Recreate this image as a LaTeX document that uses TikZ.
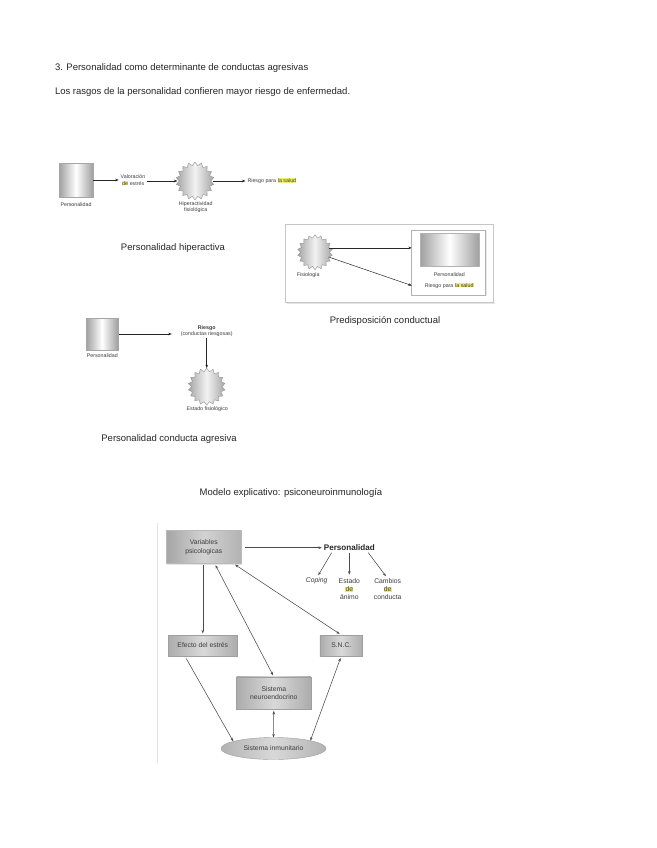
\documentclass[tikz,border=0pt]{standalone}
\usepackage{fontspec}
\setmainfont{Liberation Sans}
\usetikzlibrary{shapes.geometric,arrows.meta,shadows}
\definecolor{hly}{RGB}{238,236,110}
\definecolor{txtg}{RGB}{60,60,60}
\newcommand{\hlite}[1]{{\setlength{\fboxsep}{0.3pt}\colorbox{hly}{#1}}}
\newcommand{\fsz}[2]{\fontsize{#1}{#2}\selectfont}
\begin{document}
\begin{tikzpicture}[x=1pt,y=-1pt,
  every node/.style={inner sep=0pt, outer sep=0pt},
  headtxt/.style={font=\fsz{9.5}{11}, text=black!85, anchor=west},
  captxt/.style={font=\fsz{9.5}{11}, text=black!85},
  lbltiny/.style={font=\fsz{5.3}{6.6}, text=txtg, align=center},
  lblsmall/.style={font=\fsz{6.8}{8.2}, text=txtg, align=center},
  gradsq/.style={draw=gray!70, left color=gray!75, right color=gray!75, middle color=white, minimum width=34pt, minimum height=34pt},
  burstshape/.style={star, star points=18, star point ratio=1.22, draw=gray!85, left color=gray!70, right color=gray!70, middle color=gray!10, minimum size=#1},
  gbox/.style={draw=gray!75, left color=gray!65, right color=gray!65, middle color=gray!30, drop shadow={shadow xshift=0.8pt, shadow yshift=-0.8pt, fill=gray!35}},
  arr/.style={-{Stealth[length=3.5pt,width=2.6pt]}, draw=black!85, line width=0.5pt},
  garr/.style={-{Stealth[length=3.5pt,width=2.6pt]}, draw=black!70, line width=0.55pt},
  gdarr/.style={{Stealth[length=3.5pt,width=2.6pt]}-{Stealth[length=3.5pt,width=2.6pt]}, draw=black!70, line width=0.55pt}
]
\useasboundingbox (0,0) rectangle (656,848);
\fill[white] (0,0) rectangle (656,848);

% heading
\node[headtxt] (t1) at (55,68) {3. Personalidad como determinante de conductas agresivas};
\node[headtxt] (t2) at (55,92) {Los rasgos de la personalidad confieren mayor riesgo de enfermedad.};

% diagram 1
\node[gradsq] (p1) at (76,180) {};
\node[lbltiny] (p1l) at (76,204.3) {Personalidad};
\node[lbltiny] (val) at (133,180) {Valoración\\\hlite{de} estrés};
\node[burstshape=38pt] (b1) at (195,181) {};
\node[lbltiny] (b1l) at (195.7,207) {Hiperactividad\\fisiológica};
\node[lbltiny] (r1) at (272,181) {Riesgo para \hlite{la salud}};
\draw[arr, shorten >=2pt] (p1.east) -- (p1.east -| val.west);
\draw[arr, shorten <=2pt, shorten >=2pt] (val.east |- b1) -- (b1.west);
\draw[arr, shorten <=2pt, shorten >=2pt] (b1.east) -- (b1.east -| r1.west);
\node[captxt] (c1) at (173,248) {Personalidad hiperactiva};

% diagram 2
\fill[gray!20] (287,302) rectangle (494.5,304);
\draw[draw=gray!45, line width=0.8pt, fill=white] (285,224.3) rectangle (493.3,302.3);
\node[draw=gray!60, fill=white, line width=0.6pt, drop shadow={shadow xshift=1pt, shadow yshift=-1pt, fill=gray!35}, minimum width=74pt, minimum height=65pt] (ib) at (448.7,262.5) {};
\node[draw=gray!60, left color=gray!75, right color=gray!75, middle color=white, minimum width=59pt, minimum height=33pt] (p2) at (449.5,250) {};
\node[lbltiny] (p2l) at (449.3,275) {Personalidad};
\node[lbltiny] (r2) at (449.3,285.5) {Riesgo para \hlite{la salud}};
\node[burstshape=35pt] (b2) at (315,252.3) {};
\node[lbltiny] (b2l) at (308.3,275) {Fisiología};
\draw[arr] (b2.17) -- (ib.west |- b2.17);
\draw[arr] (b2.-19) -- (ib.west |- r2);
\node[captxt] (c2) at (385,320.5) {Predisposición conductual};

% diagram 3
\node[gradsq, minimum width=32pt, minimum height=32pt] (p3) at (102,334) {};
\node[lbltiny] (p3l) at (102.3,355.7) {Personalidad};
\node[lbltiny] (risk) at (206.7,331) {\textbf{Riesgo}\\(conductas riesgosas)};
\node[burstshape=37pt] (b3) at (206.7,386.7) {};
\node[lbltiny] (b3l) at (207.3,409.3) {Estado fisiológico};
\draw[arr, shorten <=1pt, shorten >=9pt] (p3.east) -- (p3.east -| risk.west);
\draw[arr, shorten <=1pt] (risk.south) -- (b3.north);
\node[captxt] (c3) at (169,439.5) {Personalidad conducta agresiva};

% diagram 4
\node[captxt] (c4) at (291,493) {Modelo explicativo: psiconeuroinmunología};
\draw[gray!22, line width=0.8pt] (157,523) -- (157,763);

\node[draw=gray!55, line width=1.2pt, left color=gray!70, right color=gray!60, middle color=gray!35, drop shadow={shadow xshift=1pt, shadow yshift=-1pt, fill=gray!40}, minimum width=75pt, minimum height=33pt, lblsmall] (vars) at (203.8,547.3) {Variables\\psicologicas};
\node[font=\fsz{8.1}{9}\bfseries, text=black!85] (pers) at (349.3,547.7) {Personalidad};
\node[lblsmall, font=\fsz{6.8}{8.2}\itshape] (cop) at (316.7,581) {Coping};
\node[lblsmall] (est) at (349.3,589.3) {Estado\\\hlite{de}\\ánimo};
\node[lblsmall] (cam) at (387.7,589.3) {Cambios\\\hlite{de}\\conducta};

\node[gbox, lblsmall, minimum width=69pt, minimum height=21pt] (eff) at (202.8,645.5) {Efecto del estrés};
\node[gbox, lblsmall, minimum width=42.7pt, minimum height=21pt] (snc) at (341.3,645.5) {S.N.C.};
\node[gbox, lblsmall, minimum width=74.3pt, minimum height=32.6pt] (neu) at (273.8,693) {Sistema\\neuroendocrino};
\node[ellipse, draw=gray!75, left color=gray!60, right color=gray!60, middle color=gray!30, minimum width=105pt, minimum height=22pt, lblsmall] (imm) at (273.5,748.5) {Sistema inmunitario};

\draw[garr, shorten <=4pt, shorten >=2pt] (vars.east |- pers) -- (pers.west);
\draw[garr, shorten <=2.5pt, shorten >=3pt] ([xshift=9pt]pers.south west) -- (cop.north);
\draw[garr, shorten <=2.5pt, shorten >=4pt] (pers.south) -- (est.north);
\draw[garr, shorten <=2.5pt, shorten >=3pt] ([xshift=-8pt]pers.south east) -- (cam.north);

\draw[garr, shorten <=1pt, shorten >=1.5pt] (eff.north |- vars.south) -- (eff.north);
\draw[gdarr, shorten <=1.5pt, shorten >=1.5pt] ([xshift=11pt]vars.south) -- (neu.north);
\draw[gdarr, shorten <=1.5pt, shorten >=2pt] ([xshift=30pt]vars.south) -- (snc.north);
\draw[garr, shorten <=3pt] ([xshift=-18pt]eff.south) -- (imm.170);
\draw[gdarr, shorten <=1.5pt] (neu.south) -- (imm.north);
\draw[gdarr, shorten <=2pt] (snc.south) -- (imm.12);
\end{tikzpicture}
\end{document}
